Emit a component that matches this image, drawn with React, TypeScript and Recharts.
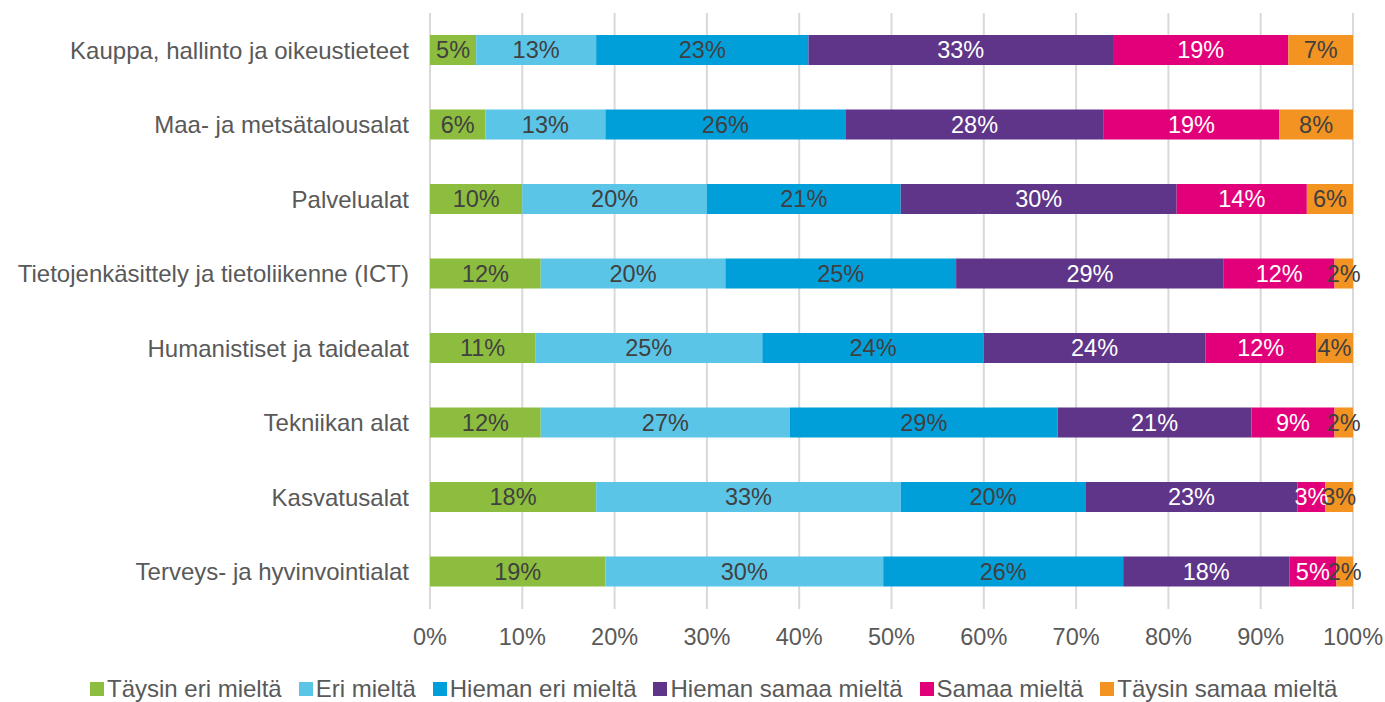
import { BarChart, Bar, XAxis, YAxis, CartesianGrid, Legend, LabelList } from "recharts";

const categories = [
  "Kauppa, hallinto ja oikeustieteet",
  "Maa- ja metsätalousalat",
  "Palvelualat",
  "Tietojenkäsittely ja tietoliikenne (ICT)",
  "Humanistiset ja taidealat",
  "Tekniikan alat",
  "Kasvatusalat",
  "Terveys- ja hyvinvointialat",
];

const taysinEri = [5, 6, 10, 12, 11.4, 12, 18, 19];
const eri = [13, 13, 20, 20, 24.6, 27, 33, 30.1];
const hiemanEri = [23, 26, 21, 25, 24, 29, 20, 26];
const hiemanSamaa = [33, 28, 29.9, 29, 24, 21, 23, 18];
const samaa = [19, 19, 14.1, 12, 12, 9, 3, 5.1];
const taysinSamaa = [7, 8, 5.5, 2, 4, 2, 3, 2];

const xTicks = [0, 10, 20, 30, 40, 50, 60, 70, 80, 90, 100];

const series = [
  { key: "s1", name: "Täysin eri mieltä", values: taysinEri, color: "#8DBD3F", text: "#404040" },
  { key: "s2", name: "Eri mieltä", values: eri, color: "#5BC5E8", text: "#404040" },
  { key: "s3", name: "Hieman eri mieltä", values: hiemanEri, color: "#009FDA", text: "#404040" },
  { key: "s4", name: "Hieman samaa mieltä", values: hiemanSamaa, color: "#5E3589", text: "#ffffff" },
  { key: "s5", name: "Samaa mieltä", values: samaa, color: "#E2007A", text: "#ffffff" },
  { key: "s6", name: "Täysin samaa mieltä", values: taysinSamaa, color: "#F39322", text: "#404040" },
];

const data = categories.map((name, i) => {
  const row: any = { name };
  series.forEach((s) => {
    row[s.key] = s.values[i];
  });
  return row;
});

const FONT = "'Liberation Sans', Arial, sans-serif";

const renderLegend = () => (
  <div
    style={{
      height: 43,
      display: "flex",
      alignItems: "flex-end",
      paddingLeft: 90,
      boxSizing: "border-box",
      fontFamily: FONT,
      fontSize: 24,
      lineHeight: "26px",
      color: "#595959",
      whiteSpace: "nowrap",
    }}
  >
    {series.map((s) => (
      <div key={s.key} style={{ display: "flex", alignItems: "center", marginRight: 17 }}>
        <span
          style={{ display: "inline-block", width: 14, height: 14, background: s.color, marginRight: 3 }}
        />
        <span>{s.name}</span>
      </div>
    ))}
  </div>
);

export default function App() {
  return (
    <div style={{ position: "absolute", left: 0, top: 0, width: 1385, height: 702, background: "#fff", fontFamily: FONT }}>
      <BarChart
        width={1385}
        height={702}
        data={data}
        layout="vertical"
        margin={{ top: 13, right: 32, bottom: 0, left: 0 }}
      >
        <CartesianGrid horizontal={false} stroke="#d9d9d9" strokeWidth={2} />
        <XAxis
          type="number"
          domain={[0, 100]}
          ticks={xTicks}
          allowDataOverflow
          tickFormatter={(v) => `${v}%`}
          axisLine={false}
          tickLine={false}
          tickSize={0}
          tickMargin={19}
          height={50}
          tick={{ fill: "#595959", fontSize: 23.5 }}
        />
        <YAxis
          type="category"
          dataKey="name"
          width={430}
          axisLine={false}
          tickLine={false}
          tickSize={0}
          tickMargin={21}
          interval={0}
          tick={{ fill: "#595959", fontSize: 24 }}
        />
        <Legend content={renderLegend} verticalAlign="bottom" />
        {series.map((s) => (
          <Bar key={s.key} dataKey={s.key} name={s.name} stackId="a" fill={s.color} barSize={30} isAnimationActive={false}>
            <LabelList
              dataKey={s.key}
              position="center"
              fill={s.text}
              fontSize={23.5}
              formatter={(v: any) => `${Math.round(Number(v))}%`}
            />
          </Bar>
        ))}
      </BarChart>
    </div>
  );
}
